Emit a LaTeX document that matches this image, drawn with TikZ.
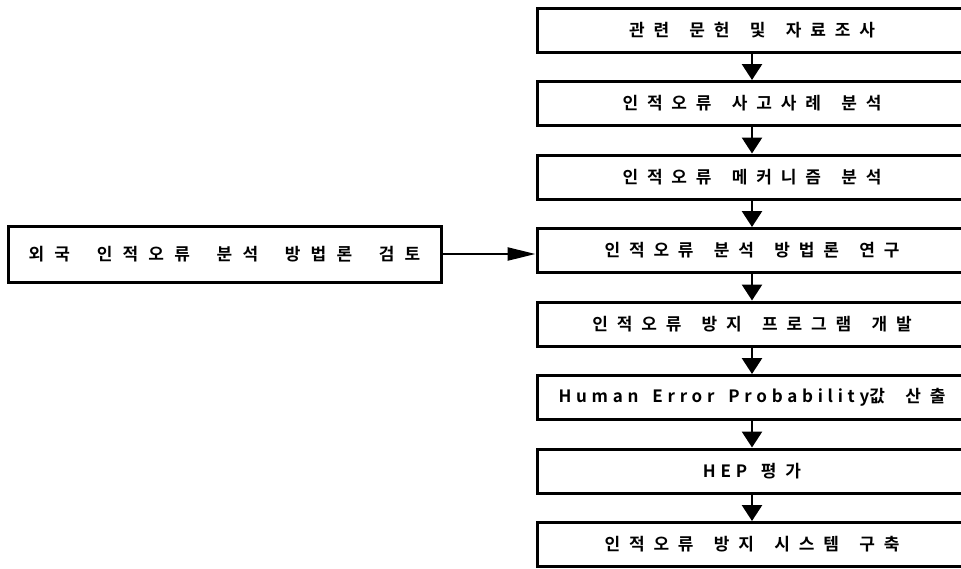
\documentclass[tikz,border=0pt]{standalone}
\usepackage{fontspec}
\newfontfamily\kr[LetterSpace=52,WordSpace=1.6]{Noto Sans CJK KR Bold}
\newfontfamily\krside[LetterSpace=60,WordSpace=1.9]{Noto Sans CJK KR Bold}
\newfontfamily\krlat[LetterSpace=28,WordSpace=1.6]{Noto Sans CJK KR Bold}
\usetikzlibrary{arrows.meta}
\tikzset{
  stepbox/.style={draw, line width=3pt, minimum width=430pt, minimum height=44pt, inner sep=0pt,
    font=\kr\fontsize{17pt}{17pt}\selectfont},
  sidebox/.style={draw, line width=3pt, minimum width=433pt, minimum height=56pt, inner sep=0pt,
    font=\krside\fontsize{17pt}{17pt}\selectfont},
  down/.style={line width=2.8pt, -{Triangle[width=20pt,length=16pt]}},
  side/.style={line width=2.4pt, -{Triangle[width=13pt,length=28pt]}}
}
\begin{document}
\begin{tikzpicture}[x=1pt,y=-1pt]
\useasboundingbox (0,0) rectangle (961,568);
\clip (0,0) rectangle (961,568);
\node[stepbox] (b1) at (752,30) {관련 문헌 및 자료조사};
\node[stepbox] (b2) at (752,103.5) {인적오류 사고사례 분석};
\node[stepbox] (b3) at (752,177) {인적오류 메커니즘 분석};
\node[stepbox] (b4) at (752,250.5) {인적오류 분석 방법론 연구};
\node[stepbox] (b5) at (752,324) {인적오류 방지 프로그램 개발};
\node[stepbox] (b6) at (752,397.5) {\krlat Human Error Probability\kr 값 산출};
\node[stepbox] (b7) at (752,471) {\krlat HEP \kr 평가};
\node[stepbox] (b8) at (752,544.5) {인적오류 방지 시스템 구축};
\node[sidebox] (l) at (224.5,254) {외국 인적오류 분석 방법론 검토};
\foreach \a/\b in {b1/b2,b2/b3,b3/b4,b4/b5,b5/b6,b6/b7,b7/b8}
  \draw[down] (\a.south) -- (\b.north);
\draw[side] (l.east) -- (l.east -| b4.west);
\end{tikzpicture}
\end{document}
